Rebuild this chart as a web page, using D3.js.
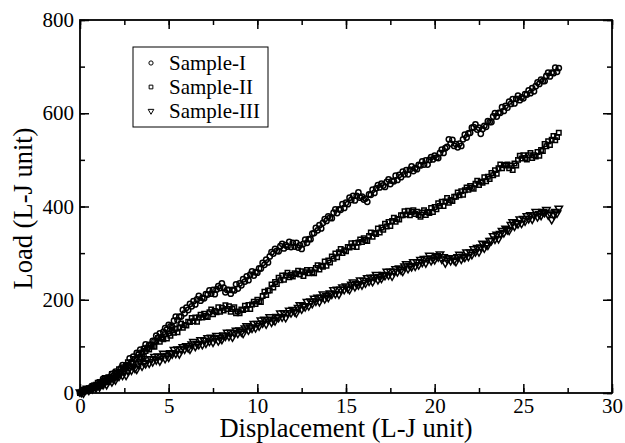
<!DOCTYPE html>
<html lang="en">
<head>
<meta charset="UTF-8">
<title>Load vs Displacement</title>
<script src="https://cdn.jsdelivr.net/npm/d3@7"></script>
<style>
  html, body { margin: 0; padding: 0; background: #fff; }
  text { font-family: "Liberation Serif", "Times New Roman", serif; fill: #000; }
  .tick text { font-size: 21px; }
  .label { font-size: 26.5px; }
  .legend text { font-size: 21px; }
  .mark { fill: none; stroke: #000; stroke-width: 1.5; }
  .legend .mark { stroke-width: 1; }
</style>
</head>
<body>
<svg id="chart" width="625" height="443"></svg>
<script>
// displacement samples (L-J unit), step 0.1 from 0 to 27
const displacement = d3.range(0, 271).map(i => i / 10)

// one row per unit of displacement, plus the last point at 27.0
const sampleI = [
  0, 3, 2, 7, 5, 6, 12, 15, 11, 16,
  13, 22, 21, 30, 23, 32, 24, 34, 41, 37,
  46, 42, 41, 53, 60, 52, 60, 60, 74, 66,
  78, 73, 86, 82, 93, 84, 95, 104, 96, 103,
  103, 112, 112, 123, 118, 128, 120, 131, 139, 136,
  146, 143, 142, 155, 164, 156, 164, 164, 178, 171,
  183, 178, 191, 186, 197, 190, 201, 208, 198, 204,
  203, 212, 211, 220, 213, 221, 212, 222, 229, 225,
  235, 226, 216, 221, 221, 213, 221, 220, 233, 224,
  235, 231, 244, 239, 250, 242, 254, 261, 252, 259,
  258, 267, 267, 279, 275, 286, 280, 293, 302, 299,
  309, 305, 304, 315, 320, 310, 317, 314, 324, 313,
  322, 314, 322, 312, 317, 309, 320, 329, 322, 330,
  330, 342, 343, 354, 349, 360, 353, 365, 373, 369,
  379, 376, 375, 387, 394, 386, 394, 393, 405, 397,
  408, 405, 419, 414, 423, 413, 423, 430, 419, 421,
  415, 417, 410, 426, 425, 436, 429, 439, 446, 441,
  449, 445, 442, 453, 458, 448, 455, 454, 466, 457,
  468, 463, 475, 469, 478, 469, 479, 486, 476, 482,
  480, 489, 488, 497, 490, 499, 490, 500, 506, 501,
  509, 505, 504, 515, 522, 515, 525, 528, 544, 535,
  543, 530, 534, 527, 535, 530, 544, 554, 548, 557,
  558, 569, 570, 576, 565, 569, 556, 566, 573, 571,
  583, 581, 581, 593, 600, 593, 601, 601, 613, 605,
  616, 612, 625, 620, 630, 621, 631, 638, 628, 634,
  632, 641, 640, 649, 643, 654, 647, 658, 666, 663,
  672, 669, 669, 680, 687, 679, 687, 686, 698, 689,
  697
]

const sampleII = [
  0, 3, 3, 8, 6, 10, 7, 12, 16, 15,
  22, 17, 15, 26, 32, 23, 31, 29, 41, 32,
  43, 38, 51, 45, 55, 47, 58, 66, 57, 64,
  63, 73, 73, 83, 77, 87, 79, 90, 97, 93,
  103, 100, 99, 111, 118, 110, 117, 115, 126, 117,
  128, 123, 135, 129, 138, 130, 141, 149, 140, 146,
  145, 153, 152, 161, 154, 162, 153, 162, 168, 162,
  170, 165, 163, 173, 179, 169, 176, 173, 184, 174,
  183, 177, 188, 180, 186, 174, 180, 184, 171, 175,
  171, 179, 178, 187, 180, 189, 180, 190, 196, 191,
  200, 196, 195, 208, 217, 210, 220, 220, 233, 226,
  238, 234, 247, 242, 252, 243, 252, 258, 248, 253,
  250, 257, 255, 262, 254, 261, 251, 259, 264, 257,
  264, 259, 257, 268, 274, 265, 273, 271, 282, 273,
  284, 280, 293, 288, 299, 291, 302, 309, 300, 306,
  304, 313, 312, 321, 314, 322, 313, 323, 329, 324,
  332, 328, 326, 337, 344, 335, 343, 341, 353, 344,
  355, 350, 363, 357, 367, 358, 369, 376, 367, 373,
  372, 381, 381, 390, 383, 391, 381, 388, 392, 384,
  389, 382, 378, 387, 392, 382, 388, 386, 397, 388,
  399, 394, 407, 401, 410, 401, 411, 418, 408, 414,
  412, 421, 421, 430, 424, 433, 425, 435, 441, 436,
  444, 440, 438, 449, 455, 446, 453, 451, 463, 454,
  464, 459, 472, 467, 478, 470, 482, 490, 482, 489,
  488, 490, 482, 488, 478, 492, 488, 500, 509, 503,
  510, 504, 501, 510, 515, 504, 510, 507, 517, 509,
  521, 519, 534, 529, 540, 532, 543, 551, 542, 549,
  558
]

const sampleIII = [
  2, 1, 0, 7, 10, 6, 10, 9, 15, 11,
  18, 13, 24, 18, 27, 18, 27, 34, 24, 30,
  28, 37, 36, 45, 38, 47, 38, 48, 54, 49,
  57, 53, 51, 62, 67, 58, 65, 63, 73, 64,
  73, 67, 78, 71, 79, 69, 78, 85, 74, 80,
  77, 86, 84, 93, 85, 94, 84, 94, 99, 94,
  101, 97, 94, 105, 110, 100, 106, 104, 114, 104,
  113, 107, 118, 111, 119, 109, 117, 123, 112, 118,
  115, 124, 122, 130, 122, 130, 120, 129, 134, 128,
  135, 131, 128, 139, 144, 135, 141, 139, 149, 140,
  149, 144, 156, 150, 158, 148, 157, 163, 152, 158,
  155, 164, 162, 171, 163, 172, 162, 172, 177, 172,
  179, 175, 172, 183, 189, 180, 187, 185, 196, 187,
  197, 192, 203, 197, 205, 196, 205, 212, 202, 208,
  205, 214, 212, 221, 213, 222, 212, 222, 227, 222,
  229, 225, 222, 233, 238, 228, 234, 232, 242, 232,
  241, 236, 247, 240, 248, 239, 248, 254, 243, 249,
  246, 254, 252, 261, 253, 261, 251, 261, 266, 260,
  268, 264, 261, 272, 277, 267, 273, 271, 281, 272,
  281, 275, 286, 280, 288, 279, 288, 295, 284, 289,
  286, 294, 292, 298, 287, 292, 279, 287, 290, 284,
  290, 285, 282, 292, 297, 287, 293, 291, 302, 293,
  302, 297, 309, 303, 312, 303, 313, 321, 311, 318,
  317, 327, 327, 337, 330, 340, 331, 342, 348, 344,
  353, 350, 349, 361, 367, 358, 365, 363, 373, 364,
  374, 369, 380, 374, 382, 373, 382, 389, 378, 384,
  381, 389, 387, 393, 382, 386, 372, 383, 389, 386,
  396
]

const xTicks = [0, 5, 10, 15, 20, 25, 30]
const yTicks = [0, 200, 400, 600, 800]
const legendNames = ['Sample-I', 'Sample-II', 'Sample-III']

// setup
const svg = d3.select('#chart')
const padding = { top: 20, right: 13, bottom: 50, left: 80 }
const WIDTH = 625 - padding.left - padding.right
const HEIGHT = 443 - padding.top - padding.bottom

const xScale = d3.scaleLinear().domain([0, 30]).range([0, WIDTH])
const yScale = d3.scaleLinear().domain([0, 800]).range([HEIGHT, 0])

const chart = svg.append('g')
  .attr('transform', `translate(${padding.left}, ${padding.top})`)

// markers
const shapes = [d3.symbolCircle, d3.symbolSquare, d3.symbolTriangle]
const symbols = [
  d3.symbol().type(shapes[0]).size(22),
  d3.symbol().type(shapes[1]).size(20),
  d3.symbol().type(shapes[2]).size(24)
]
const series = [sampleI, sampleII, sampleIII]

series.forEach((values, k) => {
  chart.append('g').selectAll('path')
    .data(values.map((v, i) => [displacement[i], v]))
    .enter()
    .append('path')
    .attr('class', 'mark')
    .attr('d', symbols[k])
    .attr('transform', d => `translate(${xScale(d[0])}, ${yScale(d[1])})` + (k === 2 ? ' rotate(180)' : ''))
})

// axes: major and minor ticks, all pointing inward
const xMinor = d3.range(0, 30.01, 2.5)
const yMinor = d3.range(0, 801, 100)

const axisB = chart.append('g').attr('transform', `translate(0, ${HEIGHT})`)
axisB.append('g').call(d3.axisBottom(xScale).tickValues(xMinor).tickSize(-5).tickFormat(''))
axisB.append('g').call(d3.axisBottom(xScale).tickValues(xTicks).tickSize(-9).tickPadding(5))

const axisT = chart.append('g')
axisT.append('g').call(d3.axisTop(xScale).tickValues(xMinor).tickSize(-5).tickFormat(''))
axisT.append('g').call(d3.axisTop(xScale).tickValues(xTicks).tickSize(-9).tickFormat(''))

const axisL = chart.append('g')
axisL.append('g').call(d3.axisLeft(yScale).tickValues(yMinor).tickSize(-5).tickFormat(''))
axisL.append('g').call(d3.axisLeft(yScale).tickValues(yTicks).tickSize(-9).tickPadding(6))

const axisR = chart.append('g').attr('transform', `translate(${WIDTH}, 0)`)
axisR.append('g').call(d3.axisRight(yScale).tickValues(yMinor).tickSize(-5).tickFormat(''))
axisR.append('g').call(d3.axisRight(yScale).tickValues(yTicks).tickSize(-9).tickFormat(''))

chart.selectAll('.domain').remove()
chart.selectAll('.tick line').attr('stroke', '#000').attr('stroke-width', 1.5)
chart.selectAll('.tick text').attr('fill', '#000').style('font-family', '"Liberation Serif", serif')

chart.append('rect')
  .attr('width', WIDTH).attr('height', HEIGHT)
  .attr('fill', 'none').attr('stroke', '#000').attr('stroke-width', 1.8)

// axis titles
chart.append('text')
  .attr('class', 'label')
  .attr('text-anchor', 'middle')
  .attr('x', WIDTH / 2)
  .attr('y', HEIGHT + 44)
  .text('Displacement (L-J unit)')

chart.append('text')
  .attr('class', 'label')
  .attr('text-anchor', 'middle')
  .attr('transform', 'rotate(-90)')
  .attr('x', -HEIGHT / 2 - 2)
  .attr('y', -48)
  .text('Load (L-J unit)')

// legend
const legend = svg.append('g').attr('class', 'legend').attr('transform', 'translate(133, 47)')
legend.append('rect')
  .attr('width', 135).attr('height', 80)
  .attr('fill', '#fff').attr('stroke', '#000').attr('stroke-width', 1)

legendNames.forEach((name, k) => {
  const y = 16 + k * 24
  legend.append('path')
    .attr('class', 'mark')
    .attr('d', d3.symbol().type(shapes[k]).size(14))
    .attr('transform', `translate(18, ${y})` + (k === 2 ? ' rotate(180)' : ''))
  legend.append('text')
    .attr('x', 36)
    .attr('y', y + 7)
    .text(name)
})
</script>
</body>
</html>
